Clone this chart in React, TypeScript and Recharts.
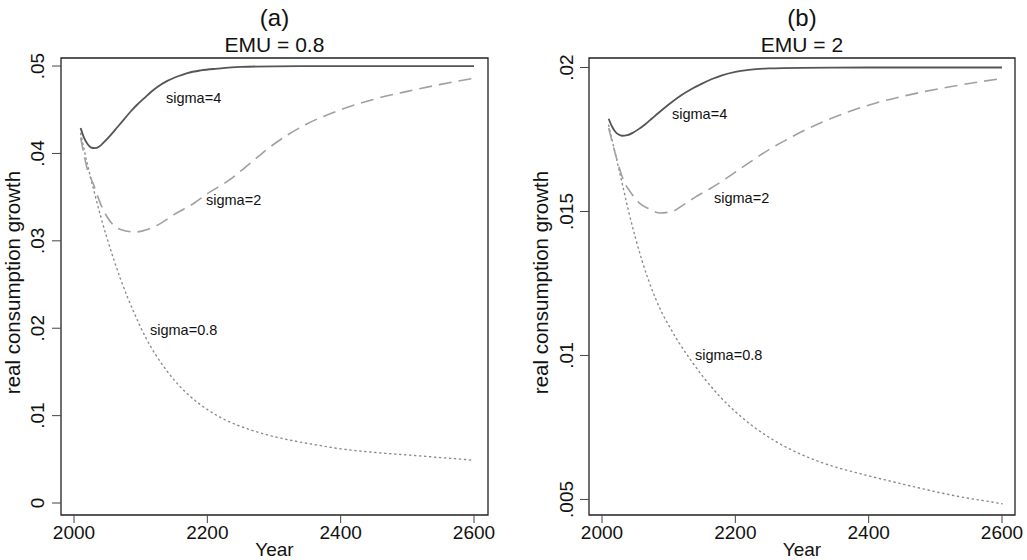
import React from 'react';
import { LineChart, Line, XAxis, YAxis, ReferenceArea, ReferenceDot } from 'recharts';

// ---------- Panel (a): EMU = 0.8 ----------
const yearsS4A = [2010, 2015, 2020, 2025, 2031, 2038, 2045, 2055, 2065, 2075, 2085, 2095, 2105, 2115, 2125, 2140, 2155, 2170, 2190, 2215, 2250, 2300, 2400, 2600];
const sigma4A = [0.0429, 0.0418, 0.0411, 0.0407, 0.0406, 0.0408, 0.0413, 0.0421, 0.043, 0.0439, 0.0448, 0.0456, 0.0463, 0.047, 0.0476, 0.0483, 0.0488, 0.0492, 0.0495, 0.0497, 0.0499, 0.04997, 0.05, 0.05];

const yearsS2A = [2010, 2020, 2029, 2040, 2050, 2064, 2080, 2091, 2110, 2130, 2150, 2180, 2200, 2230, 2260, 2290, 2320, 2350, 2400, 2450, 2500, 2550, 2600];
const sigma2A = [0.0418, 0.0382, 0.0365, 0.0342, 0.0327, 0.0315, 0.0311, 0.031, 0.0313, 0.032, 0.033, 0.0343, 0.0354, 0.0368, 0.0386, 0.0405, 0.0421, 0.0434, 0.045, 0.0462, 0.0471, 0.0479, 0.0486];

const yearsS08A = [2010, 2020, 2030, 2040, 2050, 2060, 2070, 2080, 2090, 2100, 2115, 2130, 2150, 2170, 2200, 2230, 2260, 2290, 2324, 2360, 2400, 2450, 2500, 2550, 2600];
const sigma08A = [0.0423, 0.0388, 0.0357, 0.0328, 0.0302, 0.0278, 0.0256, 0.0236, 0.0218, 0.0201, 0.0179, 0.0161, 0.0141, 0.0125, 0.0107, 0.0094, 0.0085, 0.0078, 0.0072, 0.0067, 0.0062, 0.0058, 0.0055, 0.0052, 0.0049];

// ---------- Panel (b): EMU = 2 ----------
const yearsS4B = [2010, 2015, 2020, 2025, 2030, 2038, 2046, 2055, 2065, 2075, 2085, 2095, 2105, 2120, 2135, 2150, 2165, 2180, 2200, 2220, 2250, 2300, 2400, 2600];
const sigma4B = [0.01822, 0.01795, 0.01777, 0.01767, 0.01763, 0.01765, 0.01773, 0.01786, 0.01803, 0.01823, 0.01843, 0.01862, 0.0188, 0.01905, 0.01926, 0.01944, 0.0196, 0.01973, 0.01985, 0.01992, 0.01997, 0.01999, 0.02, 0.02];

const yearsS2B = [2010, 2020, 2032, 2045, 2057, 2070, 2087, 2105, 2122, 2140, 2162, 2185, 2207, 2230, 2252, 2275, 2297, 2330, 2372, 2410, 2447, 2485, 2522, 2560, 2600];
const sigma2B = [0.0179, 0.017, 0.0161, 0.0156, 0.01527, 0.0151, 0.01495, 0.015, 0.01523, 0.0155, 0.01579, 0.01613, 0.01648, 0.01684, 0.01717, 0.01747, 0.01774, 0.0181, 0.01848, 0.01876, 0.01898, 0.01917, 0.01933, 0.01948, 0.01962];

const yearsS08B = [2010, 2020, 2030, 2040, 2050, 2060, 2070, 2080, 2090, 2100, 2115, 2132, 2152, 2175, 2200, 2230, 2264, 2300, 2340, 2395, 2430, 2470, 2510, 2545, 2580, 2600];
const sigma08B = [0.018, 0.017, 0.016, 0.015, 0.0141, 0.0133, 0.0126, 0.012, 0.01148, 0.01105, 0.01046, 0.00988, 0.00925, 0.00862, 0.00805, 0.00748, 0.00697, 0.00655, 0.0062, 0.00585, 0.00565, 0.00543, 0.00522, 0.00506, 0.00493, 0.00485];

// ---------- ticks & labels ----------
const xTicks = [2000, 2200, 2400, 2600];
const yTicksA = [0, 0.01, 0.02, 0.03, 0.04, 0.05];
const yTicksB = [0.005, 0.01, 0.015, 0.02];
const titlesA = ['(a)', 'EMU = 0.8'];
const titlesB = ['(b)', 'EMU = 2'];
const yLabel = 'real consumption growth';
const xLabel = 'Year';
const seriesNames = ['sigma=4', 'sigma=2', 'sigma=0.8'];
const annotA = [{ x: 2138, y: 0.04635 }, { x: 2198, y: 0.0347 }, { x: 2114, y: 0.01975 }];
const annotB = [{ x: 2105, y: 0.0184 }, { x: 2168, y: 0.01548 }, { x: 2139.5, y: 0.01 }];

const zip = (xs: number[], vs: number[]) => xs.map((x, i) => ({ year: x, v: vs[i] }));

const FONT = '"Liberation Sans", Arial, Helvetica, sans-serif';

const fmt = (v: number) => {
  if (v === 0) return '0';
  return String(+v.toFixed(4)).replace(/^0\./, '.');
};

const YTick = (props: any) => {
  const { x, y, payload } = props;
  return (
    <text x={x} y={y} transform={`rotate(-90 ${x} ${y})`} textAnchor="middle" fontSize={19} fill="#111" fontFamily={FONT}>
      {fmt(payload.value)}
    </text>
  );
};

const XTick = (props: any) => {
  const { x, y, payload } = props;
  return (
    <text x={x} y={y + 13} textAnchor="middle" fontSize={19} fill="#111" fontFamily={FONT}>
      {payload.value}
    </text>
  );
};

const Annot = (text: string) => (props: any) => (
  <text x={props.cx} y={props.cy} dominantBaseline="central" fontSize={14.5} fill="#111" fontFamily={FONT}>
    {text}
  </text>
);

type PanelProps = {
  left: number;
  width: number;
  yAxisWidth: number;
  rightMargin: number;
  xDomain: [number, number];
  yDomain: [number, number];
  yTicks: number[];
  yLabelX: number;
  tickMargin: number;
  s4: { year: number; v: number }[];
  s2: { year: number; v: number }[];
  s08: { year: number; v: number }[];
  annots: { x: number; y: number }[];
};

const Panel = (p: PanelProps) => {
  const H = 560;
  return (
    <div style={{ position: 'absolute', left: p.left, top: 0 }}>
      <LineChart width={p.width} height={H} margin={{ top: 58, right: p.rightMargin, bottom: 0, left: 0 }}>
        <XAxis
          type="number"
          dataKey="year"
          domain={p.xDomain}
          allowDataOverflow
          ticks={xTicks}
          tick={<XTick />}
          tickSize={8}
          tickMargin={3}
          axisLine={false}
          tickLine={{ stroke: '#444', strokeWidth: 1 }}
          height={45}
          interval={0}
          label={{
            content: (lp: any) => {
              const vb = lp.viewBox;
              return (
                <text x={vb.x + vb.width / 2} y={556} textAnchor="middle" fontSize={19} fill="#111" fontFamily={FONT}>
                  {xLabel}
                </text>
              );
            },
          }}
        />
        <YAxis
          type="number"
          dataKey="v"
          domain={p.yDomain}
          allowDataOverflow
          ticks={p.yTicks}
          tick={<YTick />}
          tickSize={9}
          tickMargin={p.tickMargin}
          axisLine={false}
          tickLine={{ stroke: '#444', strokeWidth: 1 }}
          width={p.yAxisWidth}
          interval={0}
          label={{
            content: (lp: any) => {
              const vb = lp.viewBox;
              const cy = vb.y + vb.height / 2 - 4;
              return (
                <text x={p.yLabelX} y={cy} transform={`rotate(-90 ${p.yLabelX} ${cy})`} textAnchor="middle" fontSize={20.5} fill="#111" fontFamily={FONT}>
                  {yLabel}
                </text>
              );
            },
          }}
        />
        <Line data={p.s08} dataKey="v" type="monotone" stroke="#8a8a8a" strokeWidth={1.4} strokeDasharray="1.2 3.8" strokeLinecap="round" dot={false} isAnimationActive={false} />
        <Line data={p.s2} dataKey="v" type="monotone" stroke="#a0a0a0" strokeWidth={1.6} strokeDasharray="13 7" dot={false} isAnimationActive={false} />
        <Line data={p.s4} dataKey="v" type="monotone" stroke="#555555" strokeWidth={1.8} dot={false} isAnimationActive={false} />
        {p.annots.map((a, i) => (
          <ReferenceDot key={i} x={a.x} y={a.y} r={0} ifOverflow="visible" shape={Annot(seriesNames[i])} />
        ))}
        <ReferenceArea
          x1={p.xDomain[0]}
          x2={p.xDomain[1]}
          y1={p.yDomain[0]}
          y2={p.yDomain[1]}
          fill="none"
          fillOpacity={0}
          stroke="#222"
          strokeWidth={1.3}
          ifOverflow="visible"
        />
      </LineChart>
    </div>
  );
};

export default function App() {
  return (
    <div style={{ position: 'absolute', left: 0, top: 0, width: 1027, height: 560, background: '#fff', overflow: 'hidden' }}>
      <Panel
        left={0}
        width={513}
        yAxisWidth={61}
        rightMargin={25}
        xDomain={[1980.5, 2621]}
        yDomain={[-0.00137, 0.05092]}
        yTicks={yTicksA}
        yLabelX={20}
        tickMargin={8}
        s4={zip(yearsS4A, sigma4A)}
        s2={zip(yearsS2A, sigma2A)}
        s08={zip(yearsS08A, sigma08A)}
        annots={annotA}
      />
      <Panel
        left={515}
        width={512}
        yAxisWidth={74}
        rightMargin={12}
        xDomain={[1980.5, 2619.5]}
        yDomain={[0.00446, 0.02033]}
        yTicks={yTicksB}
        yLabelX={33}
        tickMargin={7}
        s4={zip(yearsS4B, sigma4B)}
        s2={zip(yearsS2B, sigma2B)}
        s08={zip(yearsS08B, sigma08B)}
        annots={annotB}
      />
      <svg width={1027} height={560} style={{ position: 'absolute', left: 0, top: 0, pointerEvents: 'none' }}>
        <text x={274.5} y={26} textAnchor="middle" fontSize={24} fill="#111" fontFamily={FONT}>{titlesA[0]}</text>
        <text x={274.5} y={52} textAnchor="middle" fontSize={21} fill="#111" fontFamily={FONT}>{titlesA[1]}</text>
        <text x={802} y={26} textAnchor="middle" fontSize={24} fill="#111" fontFamily={FONT}>{titlesB[0]}</text>
        <text x={802} y={52} textAnchor="middle" fontSize={21} fill="#111" fontFamily={FONT}>{titlesB[1]}</text>
      </svg>
    </div>
  );
}
